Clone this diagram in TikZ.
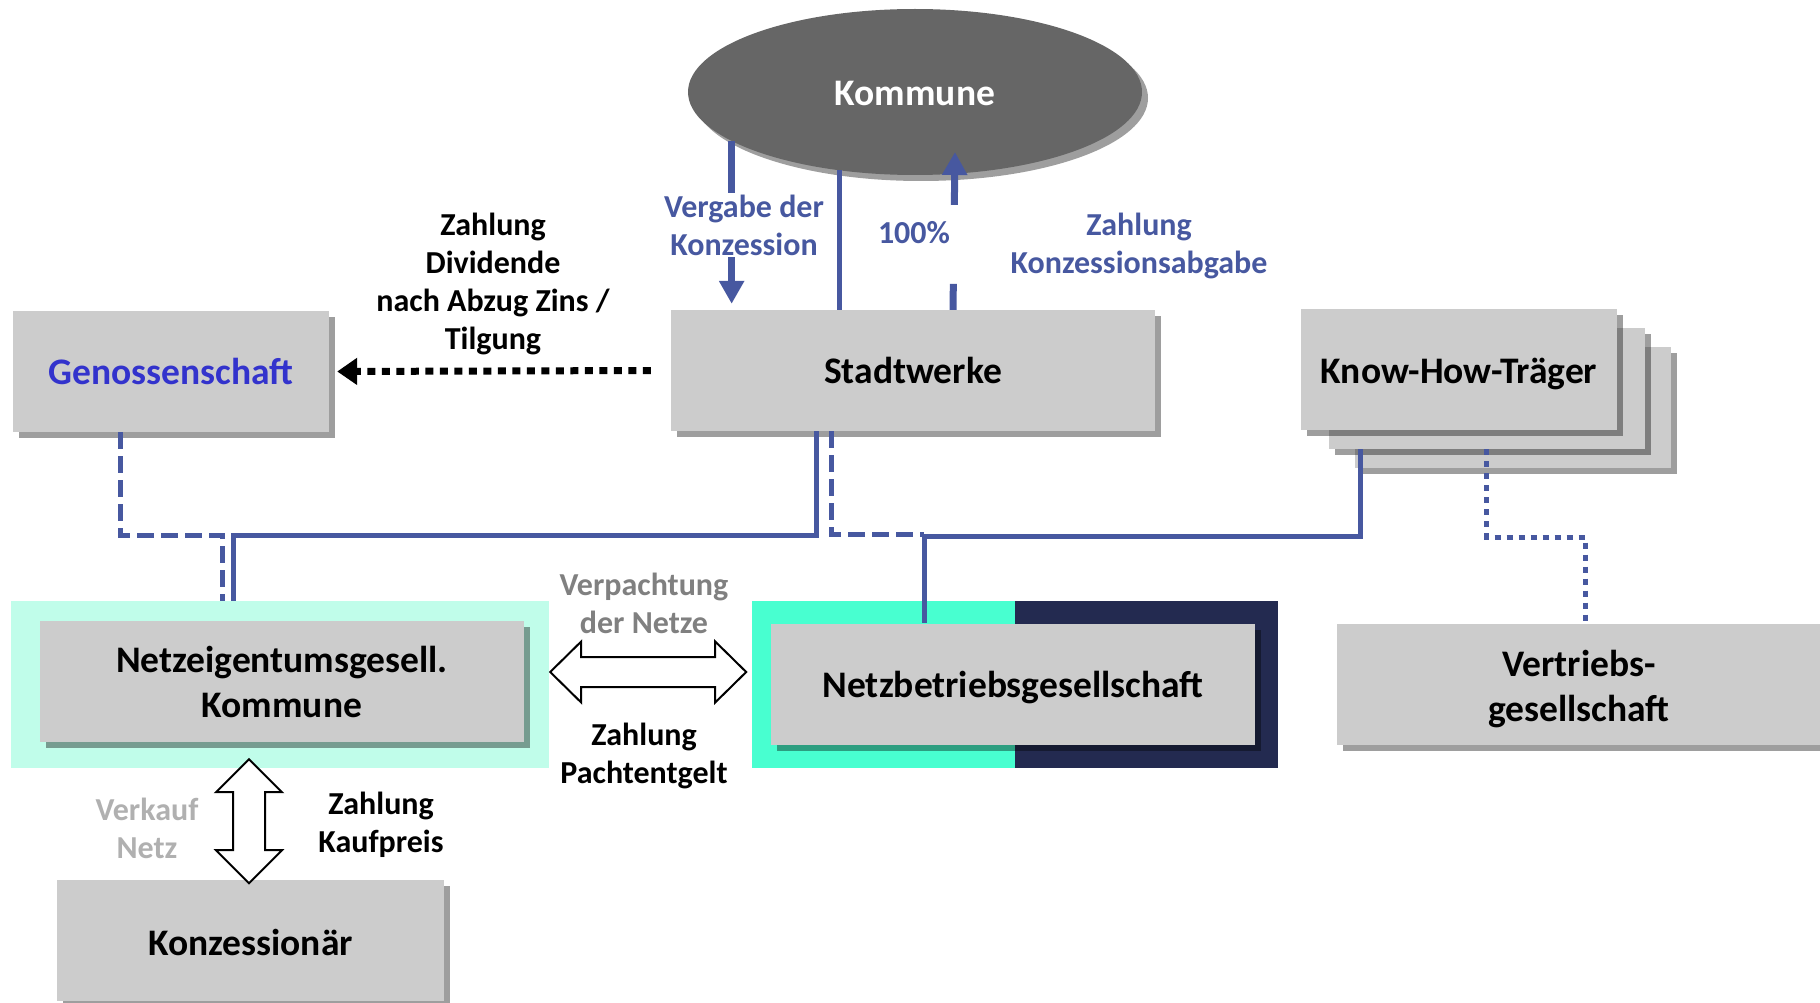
\documentclass[tikz,border=0pt]{standalone}
\usepackage{fontspec}
\setmainfont{Carlito}
\usetikzlibrary{shapes.geometric,arrows.meta,shadows}
\definecolor{lblue}{RGB}{71,88,160}
\definecolor{gblue}{RGB}{51,51,204}
\definecolor{boxgray}{RGB}{204,204,204}
\definecolor{elgray}{RGB}{102,102,102}
\definecolor{mintbg}{RGB}{192,253,234}
\definecolor{tealbg}{RGB}{72,255,208}
\definecolor{navybg}{RGB}{35,42,80}
\definecolor{lgraytxt}{RGB}{128,128,128}
\definecolor{vgraytxt}{RGB}{176,176,176}
\newcommand\bxfont{\fontsize{37.5}{45}\selectfont\bfseries}
\newcommand\lbfont{\fontsize{32}{38}\selectfont\bfseries}
\newcommand\lowr[2]{\raisebox{-#1}[\height][\depth]{#2}}
\tikzset{
  shad/.style={drop shadow={shadow xshift=6pt,shadow yshift=-6pt,fill=black,opacity=0.38}},
  box/.style={fill=boxgray,minimum width=484pt,minimum height=121pt,inner sep=0pt,align=center,font=\bxfont,shad},
  lab/.style={font=\lbfont,align=center,inner sep=2pt},
  bsolid/.style={draw=lblue,line width=5pt},
  bdash/.style={draw=lblue,line width=5pt,dash pattern=on 17pt off 7pt},
  bdot/.style={draw=lblue,line width=5pt,dash pattern=on 6pt off 6pt},
  kdot/.style={draw=black,line width=7pt,dash pattern=on 8pt off 6.5pt,-{Triangle[length=20pt,width=26pt]}},
  barrow/.style={draw=lblue,line width=7pt,-{Triangle[length=23pt,width=24pt]}},
  dblarrow/.style={draw=black,fill=white,line width=2pt,line join=miter},
}
\begin{document}
\begin{tikzpicture}[x=1pt,y=-1pt]
\useasboundingbox (0,0) rectangle (1820,1003);
\clip (0,0) rectangle (1820,1003);

% Kommune
\node[ellipse,fill=elgray,minimum width=454pt,minimum height=166pt,text=white,font=\bxfont,shad] (kom) at (915,92) {\lowr{1.5pt}{Kommune}};

% top row boxes
\node[box,minimum width=316pt] (gen) at (171,371.5) {\textcolor{gblue}{Genossenschaft}};
\node[box] (sw) at (913,370.5) {Stadtwerke};
\node[box,minimum width=316pt] (kh3) at (1512.5,407.5) {};
\node[box,minimum width=316pt] (kh2) at (1486.5,388.5) {};
\node[box,minimum width=316pt] (kh1) at (1459,369.5) {\lowr{4pt}{Know-How-Träger}};

% Netzeigentum
\node[fill=mintbg,minimum width=538pt,minimum height=167pt,inner sep=0pt] (nebg) at (280,684.5) {};
\node[box] (ne) at (282,681.5) {Netzeigentumsgesell.\\Kommune};

% Netzbetrieb
\node[minimum width=526pt,minimum height=167pt,inner sep=0pt,outer sep=0pt] (nbbg) at (1015,684.5) {};
\fill[tealbg] (nbbg.south west) rectangle (nbbg.north);
\fill[navybg] (nbbg.south) rectangle (nbbg.north east);
\node[box] (nb) at (1013,684) {\lowr{3.5pt}{Netzbetriebsgesellschaft}};

% Vertrieb, Konzessionaer
\node[box] (vt) at (1579,684.5) {\lowr{4.5pt}{Vertriebs-}\\\lowr{4.5pt}{gesellschaft}};
\node[box,minimum width=387pt] (kz) at (250.5,940.5) {\lowr{2pt}{Konzessionär}};

% connectors between boxes
\draw[bsolid] ([xshift=-97pt]sw.south) -- ++(0,104) -| ([xshift=-47pt]nebg.north);
\draw[bdash] ([xshift=-51pt]gen.south) -- ++(0,103) -| ([xshift=-58pt]nebg.north);
\draw[bdash] ([xshift=-82pt]sw.south) -- ++(0,103) -- ++(93,0);
\draw[bsolid] ([xshift=-126.5pt]kh2.south) -- ++(0,87) -| ([xshift=-89pt]nb.north);
\draw[bdot] (kh2.south) -- ++(0,88) -| ([xshift=6pt]vt.north);

% Kommune <-> Stadtwerke
\draw[barrow,shorten >=6pt] (kom.195) -- (kom.195 |- sw.north);
\draw[bsolid] (kom.226) -- (kom.226 |- sw.north);
\draw[barrow,dash pattern=on 26pt off 79pt on 400pt] ([xshift=40pt]sw.north) -- ([xshift=40pt,yshift=-60pt]kom.center);

% dividend arrow
\draw[kdot] ([xshift=-20pt]sw.west) -- ([xshift=8pt]gen.east);

% double arrows
\draw[dblarrow] ([xshift=1pt,yshift=12.5pt]nebg.east) -- ++(31,-30.5) -- ++(0,15.5) -- ++(134,0) -- ++(0,-15.5) -- ++(31,30.5) -- ++(-31,30.5) -- ++(0,-15.5) -- ++(-134,0) -- ++(0,15.5) -- cycle;
\draw[dblarrow] ([xshift=-31pt,yshift=9pt]nebg.south) -- ++(33,33) -- ++(-17,0) -- ++(0,58) -- ++(17,0) -- ++(-33,33) -- ++(-33,-33) -- ++(17,0) -- ++(0,-58) -- ++(-17,0) -- cycle;

% labels
\node[lab] (ldiv) at (493,284) {Zahlung\\Dividende\\nach Abzug Zins /\\Tilgung};
\node[lab,text=lblue,fill=white] (lverg) at (744,225) {Vergabe der\\Konzession};
\node[lab,text=lblue] (l100) at (914,233) {100\%};
\node[lab,text=lblue] (lkon) at (1139,246) {Zahlung\\Konzessionsabgabe};
\node[lab,text=lgraytxt] (lverp) at (644,603.5) {Verpachtung\\der Netze};
\node[lab] (lpacht) at (644,756) {Zahlung\\Pachtentgelt};
\node[lab,text=vgraytxt] (lverk) at (147,828) {Verkauf\\Netz};
\node[lab] (lkauf) at (381,825) {Zahlung\\Kaufpreis};
\end{tikzpicture}
\end{document}
